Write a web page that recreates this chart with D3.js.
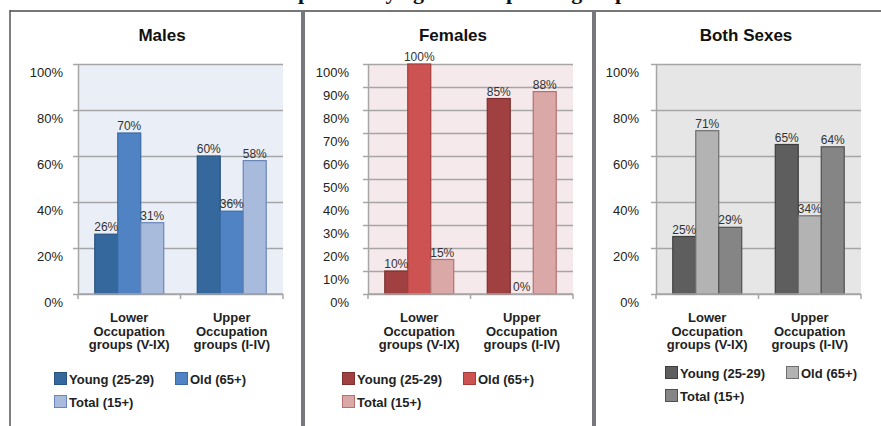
<!DOCTYPE html>
<html>
<head>
<meta charset="utf-8">
<script src="https://cdn.jsdelivr.net/npm/d3@7"></script>
<style>
  body { margin: 0; background: #fff; }
  svg { display: block; font-family: "Liberation Sans", Arial, sans-serif; }
</style>
</head>
<body>
<div id="chart"></div>
<script>
// data
var categories = ["Lower", "Upper"];
var categoryLines = [
  ["Lower", "Occupation", "groups (V-IX)"],
  ["Upper", "Occupation", "groups (I-IV)"]
];
var seriesNames = ["Young (25-29)", "Old (65+)", "Total (15+)"];

// values per category: [young, old, total]
var malesValues = [[26, 70, 31], [60, 36, 58]];
var femalesValues = [[10, 100, 15], [85, 0, 88]];
var bothValues = [[25, 71, 29], [65, 34, 64]];

var malesTicks = [0, 20, 40, 60, 80, 100];
var femalesTicks = [0, 10, 20, 30, 40, 50, 60, 70, 80, 90, 100];
var bothTicks = [0, 20, 40, 60, 80, 100];

var panelTitles = ["Males", "Females", "Both Sexes"];

var width = 881, height = 426;

var svg = d3.select("#chart").append("svg")
  .attr("width", width)
  .attr("height", height);

// heading, mostly cut off by the top edge as in the picture
svg.append("text")
  .attr("x", 450)
  .attr("y", -1)
  .attr("text-anchor", "middle")
  .style("font-family", "'Liberation Serif', 'DejaVu Serif', serif")
  .style("font-weight", "bold")
  .style("font-size", "22px")
  .attr("fill", "#111")
  .text("Proportion by age in occupation groups");

// frame lines
svg.append("line").attr("x1", 10).attr("x2", 881).attr("y1", 11).attr("y2", 11)
  .attr("stroke", "#777").attr("stroke-width", 2);
svg.append("line").attr("x1", 10).attr("x2", 10).attr("y1", 10).attr("y2", 426)
  .attr("stroke", "#555").attr("stroke-width", 1.5);
[303, 594].forEach(function (x) {
  svg.append("line").attr("x1", x).attr("x2", x).attr("y1", 10).attr("y2", 426)
    .attr("stroke", "#78787c").attr("stroke-width", 4);
});

var panels = [
  {
    title: panelTitles[0], values: malesValues, ticks: malesTicks,
    titleX: 162, left: 78, labelPad: 10, bg: "#e9eef7",
    fills: ["#35689c", "#4f83c4", "#a9bbdc"],
    strokes: ["#2a5480", "#3b6aa3", "#6a86b8"],
    legendX: 54, legendY: 372
  },
  {
    title: panelTitles[1], values: femalesValues, ticks: femalesTicks,
    titleX: 453, left: 368, labelPad: 14, bg: "#f6e9eb",
    fills: ["#a04040", "#cd5252", "#dba8a8"],
    strokes: ["#7f2f2f", "#a53c3c", "#b57070"],
    legendX: 342, legendY: 372
  },
  {
    title: panelTitles[2], values: bothValues, ticks: bothTicks,
    titleX: 746, left: 656, labelPad: 12, bg: "#e6e6e6",
    fills: ["#5e5e5e", "#b3b3b3", "#858585"],
    strokes: ["#3e3e3e", "#6e6e6e", "#505050"],
    legendX: 665, legendY: 366
  }
];

var plotW = 205, plotTop = 64, plotBottom = 294;

panels.forEach(function (p) {
  var g = svg.append("g");

  g.append("text")
    .attr("x", p.titleX)
    .attr("y", 41)
    .attr("text-anchor", "middle")
    .style("font-weight", "bold")
    .style("font-size", "17px")
    .attr("fill", "#111")
    .text(p.title);

  var y = d3.scaleLinear().domain([0, 100]).range([plotBottom, plotTop]);
  var x0 = d3.scaleBand().domain(categories).range([p.left, p.left + plotW]);
  var x1 = d3.scaleBand().domain(seriesNames)
    .range([0, x0.bandwidth()]).paddingInner(0).paddingOuter(0.73);

  g.append("rect")
    .attr("x", p.left).attr("y", plotTop)
    .attr("width", plotW).attr("height", plotBottom - plotTop)
    .attr("fill", p.bg);

  // gridlines
  var grid = g.append("g")
    .attr("transform", "translate(" + p.left + ",0)")
    .call(d3.axisLeft(y).tickValues(p.ticks).tickSize(-plotW).tickFormat(""));
  grid.select(".domain").remove();
  grid.selectAll("line").attr("stroke", "#a6a6a6").attr("stroke-width", 1.5);

  // y axis with tick labels
  var yAxis = g.append("g")
    .attr("transform", "translate(" + p.left + ",0)")
    .call(d3.axisLeft(y).tickValues(p.ticks).tickSizeInner(5).tickSizeOuter(0)
      .tickPadding(p.labelPad).tickFormat(function (d) { return d + "%"; }));
  yAxis.select(".domain").attr("stroke", "#a6a6a6").attr("stroke-width", 1.5);
  yAxis.selectAll("line").attr("stroke", "#a6a6a6").attr("stroke-width", 1.5);
  yAxis.selectAll("text")
    .attr("y", 8)
    .style("font-size", "13px")
    .style("font-family", "'Liberation Sans', Arial, sans-serif")
    .attr("fill", "#222");

  // bars
  var groups = g.selectAll(".cat")
    .data(p.values)
    .enter().append("g")
    .attr("transform", function (d, i) { return "translate(" + x0(categories[i]) + ",0)"; });

  groups.selectAll("rect")
    .data(function (d) { return d; })
    .enter().append("rect")
    .attr("x", function (d, j) { return x1(seriesNames[j]); })
    .attr("y", function (d) { return y(d); })
    .attr("width", x1.bandwidth())
    .attr("height", function (d) { return plotBottom - y(d); })
    .attr("fill", function (d, j) { return p.fills[j]; })
    .attr("stroke", function (d, j) { return d > 0 ? p.strokes[j] : "none"; })
    .attr("stroke-width", 1.2);

  groups.selectAll("text")
    .data(function (d) { return d; })
    .enter().append("text")
    .attr("x", function (d, j) { return x1(seriesNames[j]) + x1.bandwidth() / 2; })
    .attr("y", function (d) { return y(d) - 3; })
    .attr("text-anchor", "middle")
    .style("font-size", "12px")
    .attr("fill", "#333")
    .text(function (d) { return d + "%"; });

  // x axis
  var xAxis = g.append("g")
    .attr("transform", "translate(0," + plotBottom + ")");
  xAxis.append("line")
    .attr("x1", p.left).attr("x2", p.left + plotW)
    .attr("stroke", "#a6a6a6").attr("stroke-width", 1.5);
  xAxis.selectAll(".tk")
    .data([p.left, p.left + x0.bandwidth(), p.left + plotW])
    .enter().append("line")
    .attr("x1", function (d) { return d; }).attr("x2", function (d) { return d; })
    .attr("y1", 0).attr("y2", 5)
    .attr("stroke", "#a6a6a6").attr("stroke-width", 1.5);

  categoryLines.forEach(function (lines, i) {
    var t = g.append("text")
      .attr("text-anchor", "middle")
      .style("font-weight", "bold")
      .style("font-size", "13px")
      .attr("fill", "#222");
    lines.forEach(function (ln, k) {
      t.append("tspan")
        .attr("x", x0(categories[i]) + x0.bandwidth() / 2)
        .attr("y", 322 + k * 13.5)
        .text(ln);
    });
  });

  // legend
  var leg = g.selectAll(".leg")
    .data(seriesNames)
    .enter().append("g")
    .attr("transform", function (d, j) {
      return "translate(" + (p.legendX + (j % 2) * 121) + "," + (p.legendY + Math.floor(j / 2) * 23) + ")";
    });
  leg.append("rect")
    .attr("x", 0.5).attr("y", 0.5)
    .attr("width", 12).attr("height", 12)
    .attr("fill", function (d, j) { return p.fills[j]; })
    .attr("stroke", function (d, j) { return p.strokes[j]; })
    .attr("stroke-width", 1);
  leg.append("text")
    .attr("x", 15).attr("y", 11.5)
    .style("font-weight", "bold")
    .style("font-size", "13px")
    .attr("fill", "#222")
    .text(function (d) { return d; });
});
</script>
</body>
</html>
